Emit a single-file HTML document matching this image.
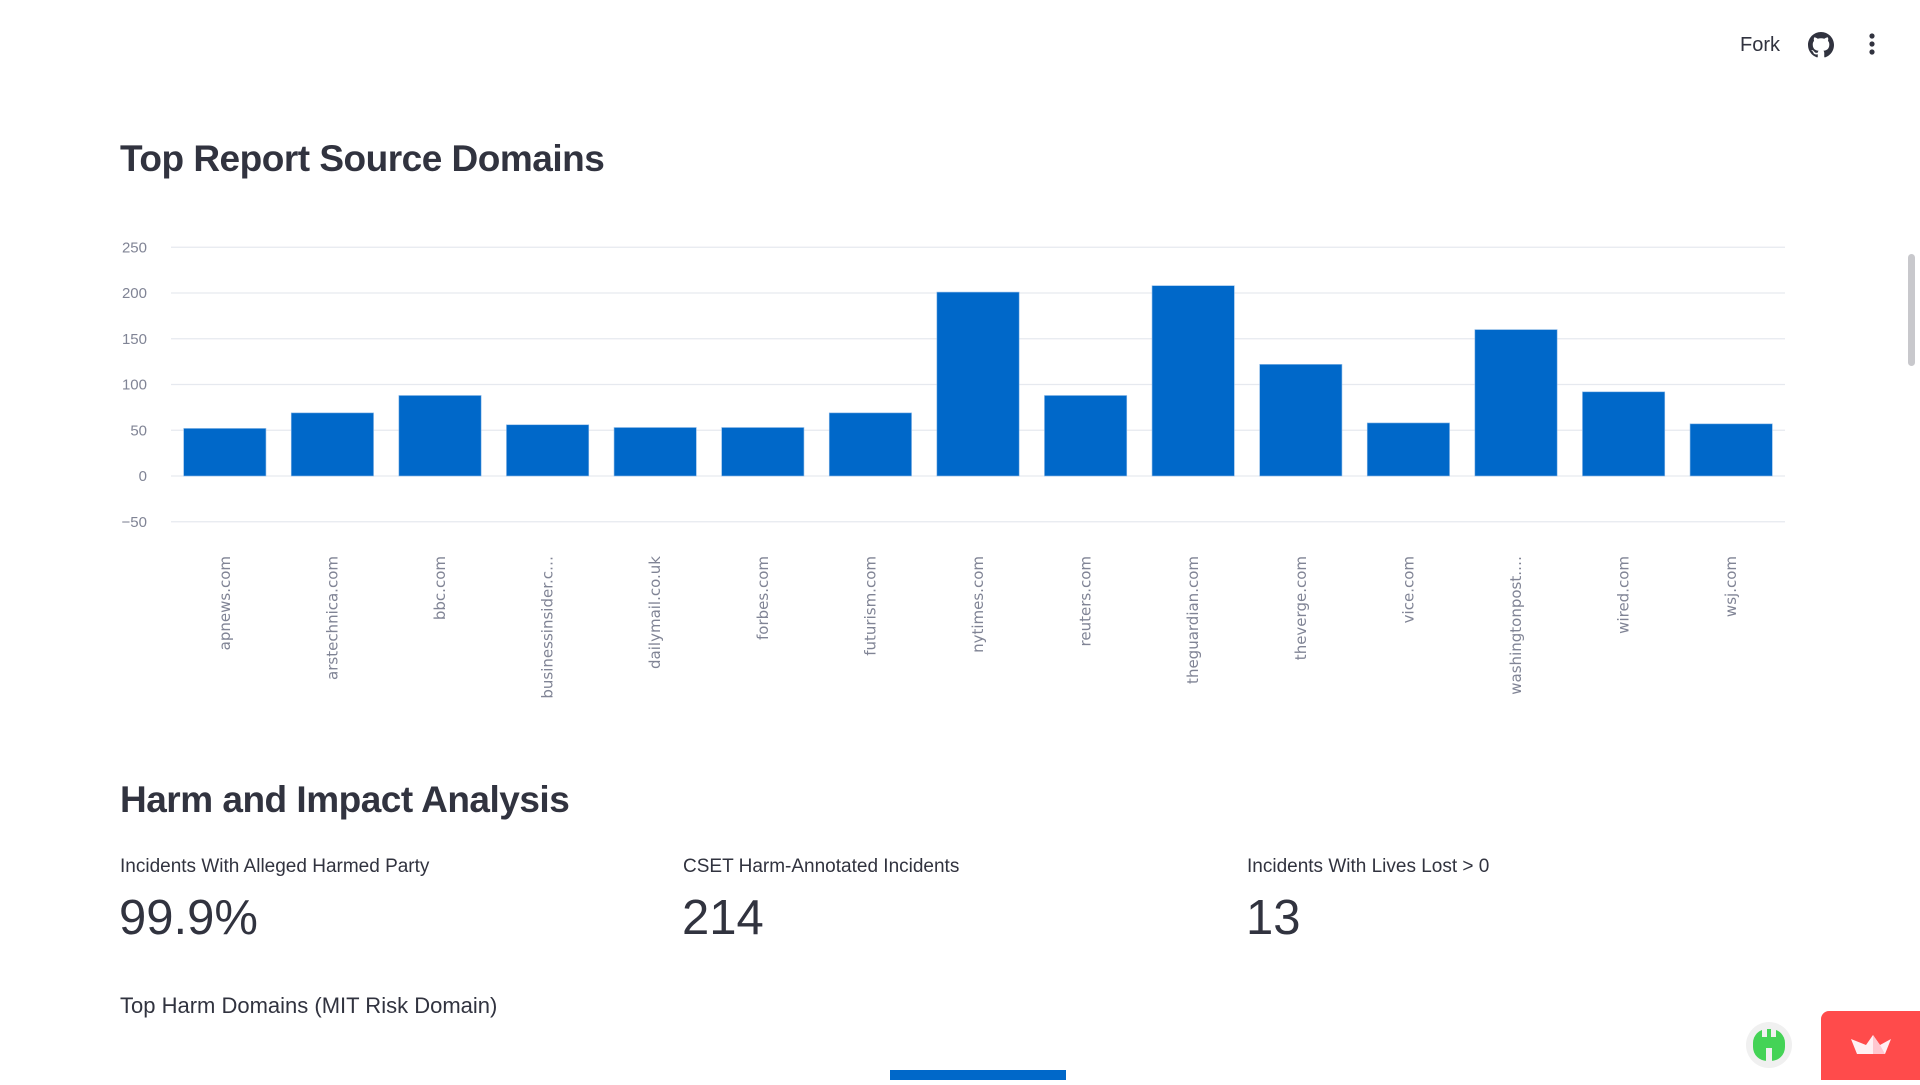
<!DOCTYPE html>
<html><head><meta charset="utf-8"><style>
html,body{margin:0;padding:0;width:1920px;height:1080px;overflow:hidden;background:#fff;font-family:"Liberation Sans",sans-serif;color:#31333f;}
.abs{position:absolute;}
h1,h2{margin:0;font-weight:700;letter-spacing:-0.5px;}
</style></head><body>
<div class="abs" style="left:1740px;top:34px;font-size:20px;color:#31333f;">Fork</div>
<svg class="abs" style="left:1808px;top:32px" width="26" height="26" viewBox="0 0 16 16"><path fill="#31333f" d="M8 0C3.580 0 0 3.58 0 8c0 3.54 2.29 6.53 5.47 7.59.4.07.55-.17.55-.38 0-.19-.01-.82-.01-1.490-2.01.37-2.53-.49-2.69-.94-.09-.23-.48-.94-.82-1.13-.28-.15-.68-.52-.01-.53.63-.01 1.08.58 1.23.82.72 1.21 1.87.87 2.330.66.07-.52.28-.87.51-1.07-1.78-.2-3.64-.89-3.64-3.95 0-.87.31-1.59.82-2.15-.08-.2-.36-1.02.08-2.12 0 0 .67-.21 2.2.82.64-.18 1.32-.27 2-.27.68 0 1.36.09 2 .27 1.53-1.04 2.2-.82 2.2-.82.44 1.1.16 1.92.08 2.12.51.56.82 1.27.82 2.15 0 3.07-1.87 3.75-3.65 3.95.29.25.54.73.54 1.48 0 1.07-.01 1.93-.01 2.2 0 .21.15.46.55.38A8.013 8.013 0 0016 8c0-4.42-3.58-8-8-8z"/></svg>
<svg class="abs" style="left:1862px;top:32px" width="20" height="26"><circle cx="10" cy="4" r="2.6" fill="#31333f"/><circle cx="10" cy="12" r="2.6" fill="#31333f"/><circle cx="10" cy="20" r="2.6" fill="#31333f"/></svg>
<div class="abs" style="left:1908px;top:254px;width:7px;height:112px;border-radius:4px;background:#c8c8cc;"></div>

<h1 class="abs" style="left:120px;top:138px;font-size:37px;">Top Report Source Domains</h1>

<svg class="abs" id="chart" style="left:0;top:0" width="1920" height="720"></svg>

<h2 class="abs" style="left:120px;top:779px;font-size:37px;">Harm and Impact Analysis</h2>

<div class="abs" style="left:120px;top:856px;font-size:19px;">Incidents With Alleged Harmed Party</div>
<div class="abs" style="left:119px;top:890px;font-size:49px;">99.9%</div>
<div class="abs" style="left:683px;top:856px;font-size:19px;">CSET Harm-Annotated Incidents</div>
<div class="abs" style="left:682px;top:890px;font-size:49px;">214</div>
<div class="abs" style="left:1247px;top:856px;font-size:19px;">Incidents With Lives Lost &gt; 0</div>
<div class="abs" style="left:1246px;top:890px;font-size:49px;">13</div>

<div class="abs" style="left:120px;top:993px;font-size:22px;">Top Harm Domains (MIT Risk Domain)</div>
<div class="abs" style="left:890px;top:1070px;width:176px;height:10px;background:#0068c9;"></div>

<div class="abs" style="left:1746px;top:1022px;width:46px;height:46px;border-radius:50%;background:#f0f0f0;">
<svg width="46" height="46"><rect x="7" y="7" width="32" height="32" rx="14" fill="#44d356"/><rect x="16" y="7" width="5" height="8" fill="#f0f0f0"/><rect x="25" y="7" width="5" height="8" fill="#f0f0f0"/><rect x="20" y="26" width="6" height="13" fill="#f0f0f0"/></svg></div>
<div class="abs" style="left:1821px;top:1011px;width:99px;height:69px;background:#ff4b4b;border-radius:8px 0 0 0;">
<svg width="99" height="69"><polygon points="30,28 45,34 52,24 59,34 70,28 64,43 36,43" fill="#fff0f3"/><polygon points="52,24 59,34 64,43 52,43" fill="#ffc7d0"/></svg></div>

<script>
const categories=["apnews.com","arstechnica.com","bbc.com","businessinsider.c…","dailymail.co.uk","forbes.com","futurism.com","nytimes.com","reuters.com","theguardian.com","theverge.com","vice.com","washingtonpost.…","wired.com","wsj.com"];
const values=[52,69,88,56,53,53,69,201,88,208,122,58,160,92,57];
const yTicks=[-50,0,50,100,150,200,250];
const tickLabels=["−50","0","50","100","150","200","250"];
const NS="http://www.w3.org/2000/svg";
const svg=document.getElementById('chart');
const plotL=171,plotR=1785,y0px=476,pxPerUnit=0.915;
function y(v){return y0px-v*pxPerUnit;}
const step=(plotR-plotL)/categories.length;
function x(i){return plotL+i*step;}
function mk(t,a){const e=document.createElementNS(NS,t);for(const k in a)e.setAttribute(k,a[k]);svg.appendChild(e);return e;}
yTicks.forEach((t,i)=>{
  const g=mk('line',{x1:plotL,x2:plotR,y1:y(t),y2:y(t),stroke:'#e6e9ef','stroke-width':1.2});
  
  
  const l=mk('text',{x:147,y:y(t)+5,'text-anchor':'end','font-size':15,fill:'#808495','font-family':'Liberation Sans, sans-serif'});
  l.textContent=tickLabels[i];
  
  
});
categories.forEach((c,i)=>{
  const bw=step*0.765;
  const bx=x(i)+(step-bw)/2;
  const r=mk('rect',{x:bx,y:y(values[i]),width:bw,height:y(0)-y(values[i]),fill:'#0068c9',stroke:'#8fbbe8','stroke-width':0.6});
  
  
  const cx=x(i)+step/2;
  const t=mk('text',{x:0,y:0,transform:`translate(${cx+5},556) rotate(-90)`,'text-anchor':'end','font-size':15,fill:'#808495','font-family':'DejaVu Sans, sans-serif'});
  t.textContent=c;
  
  
});
</script>
</body></html>
